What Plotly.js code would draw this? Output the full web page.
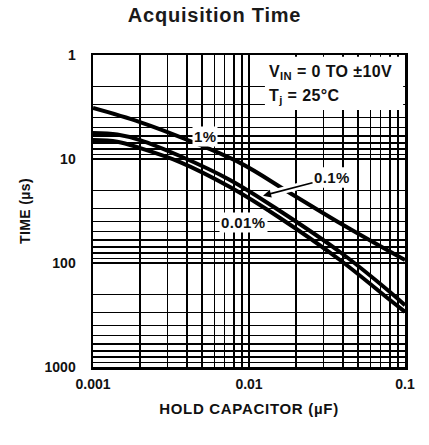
<!DOCTYPE html>
<html>
<head>
<meta charset="utf-8">
<script src="https://cdn.plot.ly/plotly-3.0.1.min.js"></script>
<style>
html,body{margin:0;padding:0;background:#fff;}
#chart{width:429px;height:445px;}
.gtitle{letter-spacing:0.8px;}
.xtitle{letter-spacing:0.7px;}
.ytitle{letter-spacing:0.4px;}
.annotation-text{letter-spacing:0.4px;}
</style>
</head>
<body>
<div id="chart"></div>
<script>
// Hold capacitor (µF) sample points per curve
const capX1 = [0.001, 0.002, 0.00419, 0.00876, 0.0183, 0.0412, 0.1];
const capX2 = [0.001, 0.00143, 0.002, 0.00361, 0.00755, 0.0158, 0.0383, 0.0801, 0.1];
// Acquisition time (µs)
const time1pct   = [3.23, 4.41, 6.71, 10.9, 21.2, 44.1, 93.6];
const time01pct  = [5.62, 5.81, 6.57, 9.36, 15.9, 31.6, 78.4, 190, 255];
const time001pct = [6.57, 6.82, 7.84, 10.7, 18.6, 36.9, 93.6, 227, 295];
const seriesNames = ["1%", "0.1%", "0.01%"];

// axis tick labels (decades)
const xDecades = [0.001, 0.01, 0.1];
const xLabels = ["0.001", "0.01", "0.1"];
const yDecades = [1, 10, 100, 1000];
const yLabels = ["1", "10", "100", "1000"];

function gridTicks(decades, labels) {
  const vals = [], txt = [];
  decades.forEach((d, i) => {
    vals.push(d); txt.push(labels[i]);
    if (i < decades.length - 1) {
      for (let m = 2; m <= 9; m++) { vals.push(d * m); txt.push(""); }
    }
  });
  return {vals, txt};
}
const xg = gridTicks(xDecades, xLabels);
const yg = gridTicks(yDecades, yLabels);

const FONT = "Liberation Sans, Arial, Helvetica, sans-serif";
const lineStyle = {color: "#000", width: 4, shape: "spline", smoothing: 1};

const traces = [
  {x: capX1, y: time1pct, name: seriesNames[0], mode: "lines", line: lineStyle, hoverinfo: "skip"},
  {x: capX2, y: time01pct, name: seriesNames[1], mode: "lines", line: lineStyle, hoverinfo: "skip"},
  {x: capX2, y: time001pct, name: seriesNames[2], mode: "lines", line: lineStyle, hoverinfo: "skip"}
];

const axisCommon = {
  type: "log",
  showgrid: true, gridcolor: "#000", gridwidth: 1.3,
  showline: true, mirror: true, linecolor: "#000", linewidth: 2.5,
  zeroline: false, ticks: "", tickmode: "array",
  tickfont: {family: FONT, size: 14, color: "#111", weight: "bold"}
};

const labelFont = {family: FONT, size: 15, color: "#111", weight: "bold"};
const boxFont = {family: FONT, size: 16, color: "#111", weight: "bold"};

const layout = {
  width: 429, height: 445,
  margin: {l: 93, r: 24, t: 55, b: 78},
  paper_bgcolor: "#fff", plot_bgcolor: "#fff",
  showlegend: false,
  font: {family: FONT, color: "#111"},
  title: {text: "Acquisition Time", font: {family: FONT, size: 20, weight: "bold", color: "#1a1a1a"},
          xref: "container", x: 0.5, xanchor: "center", yref: "container", y: 0.966, yanchor: "middle"},
  xaxis: Object.assign({}, axisCommon, {
    range: [-3, -1], tickvals: xg.vals, ticktext: xg.txt, ticklabelstandoff: 3,
    title: {text: "HOLD CAPACITOR (µF)", font: {family: FONT, size: 15, weight: "bold", color: "#111"}, standoff: 12}
  }),
  yaxis: Object.assign({}, axisCommon, {
    range: [3, 0], tickvals: yg.vals, ticktext: yg.txt, ticklabelstandoff: 12,
    title: {text: "TIME (µs)", font: {family: FONT, size: 14, weight: "bold", color: "#111"}, standoff: 11}
  }),
  shapes: [
    {type: "rect", xref: "paper", yref: "paper", x0: 0.551, x1: 0.994, y0: 0.824, y1: 0.994,
     fillcolor: "#fff", line: {width: 0}, layer: "above"}
  ],
  annotations: [
    {xref: "paper", yref: "paper", x: 0.559, y: 0.945, xanchor: "left", yanchor: "middle", showarrow: false,
     text: "V<sub>IN</sub> = 0 TO ±10V", font: boxFont},
    {xref: "paper", yref: "paper", x: 0.559, y: 0.866, xanchor: "left", yanchor: "middle", showarrow: false,
     text: "T<sub>j</sub> = 25°C", font: boxFont},
    {x: Math.log10(0.00522), y: Math.log10(6.14), text: "1%", showarrow: false, bgcolor: "#fff", borderpad: 1, font: labelFont},
    // white halo under the arrow
    {x: Math.log10(0.0123), y: Math.log10(22.5), ax: 69, ay: -18, text: "0.1%", showarrow: true, arrowhead: 0,
     arrowwidth: 7, arrowcolor: "#fff", standoff: 5, bgcolor: "#fff", borderpad: 1, font: labelFont},
    {x: Math.log10(0.0123), y: Math.log10(22.5), ax: 69, ay: -18, text: "0.1%", showarrow: true, arrowhead: 2,
     arrowsize: 1, arrowwidth: 1.6, arrowcolor: "#000", bgcolor: "#fff", borderpad: 1, font: labelFont},
    {x: Math.log10(0.00916), y: Math.log10(41.2), text: "0.01%", showarrow: false, bgcolor: "#fff", borderpad: 1, font: labelFont}
  ]
};

Plotly.newPlot("chart", traces, layout, {staticPlot: true, displayModeBar: false});
</script>
</body>
</html>
